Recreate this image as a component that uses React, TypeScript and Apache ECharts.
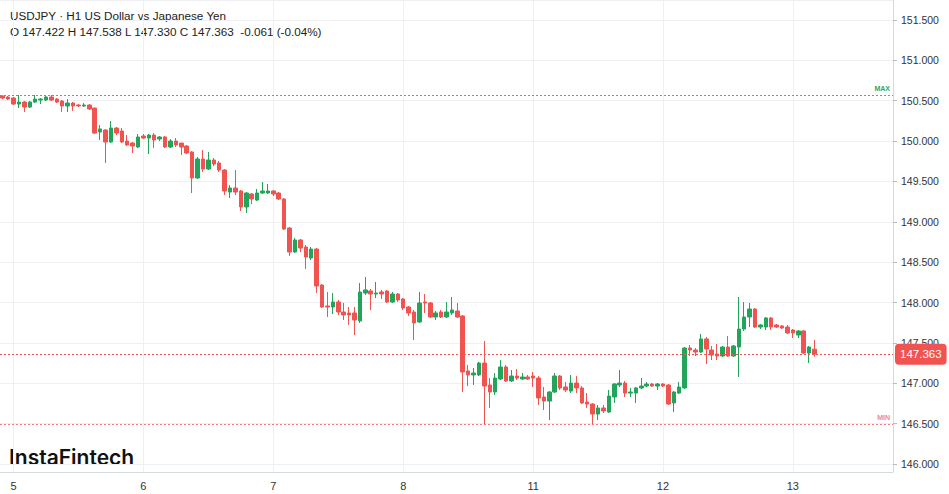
import React, { useEffect, useRef } from 'react';
import * as echarts from 'echarts';

// Trading sessions shown (day label, first hour, last hour)
const sessions: [string, number, number][] = [
  ['4', 22, 23], ['5', 0, 23], ['6', 0, 23], ['7', 0, 23], ['8', 0, 23],
  ['11', 0, 23], ['12', 0, 23], ['13', 0, 18],
];

const opens = [
  150.559, 150.546, 150.534, 150.459, 150.484, 150.422, 150.484, 150.509, 150.509, 150.546,
  150.521, 150.497, 150.435, 150.472, 150.447, 150.435, 150.447, 150.41, 150.113, 150.137,
  149.989, 150.162, 150.125, 150.001, 149.976, 149.927, 150.063, 150.038, 150.075, 150.026,
  150.051, 149.927, 150.001, 149.976, 149.939, 149.865, 149.543, 149.778, 149.654, 149.766,
  149.729, 149.642, 149.369, 149.419, 149.382, 149.184, 149.345, 149.27, 149.357, 149.357,
  149.382, 149.357, 149.283, 148.923, 148.626, 148.775, 148.688, 148.552, 148.663, 148.217,
  147.957, 147.945, 148.007, 147.883, 147.871, 147.871, 147.772, 148.118, 148.143, 148.106,
  148.131, 148.143, 148.007, 148.106, 148.044, 147.945, 147.883, 147.759, 148.007, 147.995,
  147.821, 147.883, 147.821, 147.871, 147.895, 147.834, 147.152, 147.103, 147.103, 147.251,
  146.979, 146.892, 147.053, 147.202, 147.028, 147.09, 147.053, 147.078, 147.09, 147.065,
  146.83, 146.78, 146.892, 147.09, 146.954, 146.904, 147.003, 146.942, 146.768, 146.743,
  146.619, 146.694, 146.644, 146.83, 146.979, 147.003, 146.879, 146.879, 146.942, 146.966,
  146.991, 146.966, 146.991, 146.979, 146.756, 146.879, 146.942, 147.437, 147.412, 147.387,
  147.549, 147.412, 147.363, 147.338, 147.449, 147.338, 147.449, 147.672, 147.821, 147.92,
  147.697, 147.697, 147.809, 147.722, 147.71, 147.697, 147.66, 147.598, 147.648, 147.375,
  147.422,
];

const closes = [
  150.534, 150.521, 150.459, 150.484, 150.422, 150.484, 150.521, 150.521, 150.546, 150.509,
  150.484, 150.435, 150.472, 150.435, 150.435, 150.447, 150.398, 150.1, 150.15, 149.989,
  150.162, 150.1, 149.989, 149.952, 149.939, 150.051, 150.038, 150.075, 150.014, 150.051,
  149.927, 150.001, 149.952, 149.927, 149.853, 149.543, 149.778, 149.654, 149.766, 149.716,
  149.642, 149.382, 149.419, 149.369, 149.184, 149.357, 149.283, 149.357, 149.382, 149.382,
  149.345, 149.283, 148.911, 148.626, 148.775, 148.676, 148.564, 148.663, 148.205, 147.945,
  147.945, 148.007, 147.883, 147.846, 147.846, 147.784, 148.131, 148.156, 148.106, 148.118,
  148.106, 148.007, 148.106, 148.032, 147.933, 147.871, 147.747, 147.995, 147.995, 147.821,
  147.871, 147.821, 147.883, 147.908, 147.821, 147.14, 147.103, 147.127, 147.251, 146.966,
  146.892, 147.065, 147.202, 147.028, 147.09, 147.065, 147.078, 147.053, 147.065, 146.818,
  146.78, 146.892, 147.09, 146.942, 146.917, 147.003, 146.942, 146.756, 146.743, 146.619,
  146.694, 146.657, 146.842, 146.991, 147.003, 146.879, 146.892, 146.942, 146.966, 146.991,
  146.966, 146.991, 146.966, 146.743, 146.892, 146.954, 147.437, 147.412, 147.387, 147.549,
  147.425, 147.35, 147.338, 147.449, 147.338, 147.462, 147.672, 147.821, 147.92, 147.697,
  147.722, 147.809, 147.697, 147.697, 147.685, 147.623, 147.623, 147.648, 147.375, 147.449,
  147.363,
];

const lows = [
  150.521, 150.509, 150.447, 150.41, 150.36, 150.41, 150.472, 150.459, 150.497, 150.497,
  150.472, 150.36, 150.36, 150.373, 150.422, 150.422, 150.385, 150.088, 150.014, 149.729,
  149.976, 150.075, 149.976, 149.939, 149.853, 149.914, 150.026, 149.84, 149.914, 150.001,
  149.914, 149.914, 149.927, 149.828, 149.84, 149.357, 149.53, 149.617, 149.642, 149.691,
  149.617, 149.332, 149.295, 149.332, 149.134, 149.109, 149.221, 149.258, 149.345, 149.345,
  149.32, 149.27, 148.899, 148.577, 148.614, 148.626, 148.416, 148.527, 148.118, 147.933,
  147.821, 147.858, 147.846, 147.784, 147.722, 147.598, 147.747, 148.094, 147.908, 148.056,
  148.044, 147.995, 147.995, 148.007, 147.908, 147.834, 147.536, 147.747, 147.871, 147.809,
  147.784, 147.809, 147.809, 147.846, 147.809, 146.892, 146.966, 146.979, 147.09, 146.487,
  146.694, 146.855, 147.041, 147.016, 147.016, 147.041, 147.041, 147.041, 146.954, 146.731,
  146.669, 146.545, 146.879, 146.917, 146.892, 146.879, 146.879, 146.743, 146.694, 146.493,
  146.545, 146.632, 146.632, 146.756, 146.954, 146.83, 146.83, 146.756, 146.929, 146.954,
  146.954, 146.917, 146.954, 146.731, 146.644, 146.867, 146.929, 147.338, 147.338, 147.375,
  147.239, 147.288, 147.288, 147.326, 147.326, 147.326, 147.078, 147.648, 147.697, 147.685,
  147.672, 147.66, 147.66, 147.685, 147.672, 147.611, 147.561, 147.561, 147.363, 147.251,
  147.33,
];

const highs = [
  150.565, 150.559, 150.546, 150.571, 150.497, 150.497, 150.571, 150.534, 150.559, 150.571,
  150.534, 150.509, 150.521, 150.484, 150.459, 150.472, 150.459, 150.41, 150.199, 150.15,
  150.249, 150.174, 150.162, 150.075, 149.989, 150.088, 150.088, 150.088, 150.1, 150.063,
  150.063, 150.026, 150.038, 149.976, 149.952, 149.877, 149.803, 149.89, 149.865, 149.791,
  149.753, 149.654, 149.456, 149.642, 149.394, 149.369, 149.357, 149.407, 149.493, 149.469,
  149.394, 149.369, 149.295, 148.936, 148.8, 148.787, 148.713, 148.688, 148.676, 148.23,
  148.131, 148.118, 148.032, 147.995, 147.945, 147.945, 148.242, 148.317, 148.168, 148.255,
  148.156, 148.156, 148.131, 148.118, 148.056, 147.957, 147.908, 148.131, 148.106, 148.007,
  147.895, 147.908, 148.007, 148.069, 147.995, 147.846, 147.227, 147.189, 147.264, 147.524,
  147.065, 147.127, 147.288, 147.227, 147.165, 147.177, 147.127, 147.103, 147.14, 147.09,
  146.954, 146.904, 147.127, 147.103, 147.016, 147.103, 147.09, 146.966, 146.879, 146.756,
  146.731, 146.731, 146.917, 147.003, 147.165, 147.028, 146.942, 146.954, 147.065, 147.016,
  147.003, 147.003, 147.003, 146.991, 146.904, 147.016, 147.449, 147.474, 147.437, 147.611,
  147.573, 147.462, 147.487, 147.462, 147.586, 147.474, 148.069, 148.007, 147.995, 147.933,
  147.734, 147.821, 147.821, 147.734, 147.722, 147.722, 147.672, 147.66, 147.66, 147.462,
  147.538,
];

const headerTitle = 'USDJPY · H1 US Dollar vs Japanese Yen';
const headerValues = 'O 147.422 H 147.538 L 147.330 C 147.363  -0.061 (-0.04%)';
const brand = 'InstaFintech';

const GREEN = '#22a55a';
const RED = '#f05350';
const FONT = 'Arial, "Liberation Sans", sans-serif';

const categories: string[] = [];
sessions.forEach(([d, h0, h1]) => {
  for (let h = h0; h <= h1; h++) categories.push(`${d} ${String(h).padStart(2, '0')}:00`);
});
const isDayStart = (_i: number, v: string) => v.endsWith(' 00:00');

export default function App() {
  const ref = useRef<HTMLDivElement>(null);
  useEffect(() => {
    if (!ref.current) return;
    const chart = echarts.init(ref.current, null, { renderer: 'svg' });
    const data = opens.map((o, i) => [o, closes[i], lows[i], highs[i]]);
    const last = closes[closes.length - 1];
    const maxHigh = Math.max(...highs);
    const minLow = Math.min(...lows);
    chart.setOption({
      animation: false,
      backgroundColor: '#ffffff',
      textStyle: { fontFamily: FONT },
      grid: { left: -1, right: 56, top: 0, bottom: 22, containLabel: false },
      xAxis: {
        type: 'category',
        data: categories,
        boundaryGap: true,
        axisLine: { show: true, lineStyle: { color: '#d5d9e2', width: 1 } },
        axisTick: { show: false },
        axisLabel: {
          interval: isDayStart,
          formatter: (v: string) => v.split(' ')[0],
          color: '#333',
          fontSize: 11,
          margin: 8,
        },
        splitLine: {
          show: true,
          interval: isDayStart,
          alignWithLabel: true,
          lineStyle: { color: '#eef0f4', width: 1 },
        },
      },
      yAxis: {
        type: 'value',
        position: 'right',
        min: 145.901,
        max: 151.748,
        splitNumber: 11,
        axisLine: { show: true, lineStyle: { color: '#d5d9e2', width: 1 } },
        axisTick: { show: true, length: 4, lineStyle: { color: '#b8bcc6' } },
        axisLabel: {
          formatter: (v: number) => v.toFixed(3),
          showMinLabel: false,
          showMaxLabel: false,
          color: '#333',
          fontSize: 10.5,
          margin: 8,
        },
        splitLine: { show: true, lineStyle: { color: '#eef0f4', width: 1 } },
      },
      series: [
        {
          type: 'candlestick',
          data,
          barWidth: 4,
          itemStyle: {
            color: GREEN,
            color0: RED,
            borderColor: GREEN,
            borderColor0: RED,
            borderWidth: 1,
          },
          markLine: {
            symbol: 'none',
            silent: true,
            animation: false,
            data: [
              {
                yAxis: maxHigh,
                lineStyle: { color: '#3dbb72', type: [2, 2], width: 1 },
                label: {
                  formatter: 'MAX', position: 'insideEndTop', color: '#2aa862',
                  fontSize: 7, fontWeight: 'bold', distance: 3,
                },
              },
              {
                yAxis: minLow,
                lineStyle: { color: '#f47c7c', type: [2, 2], width: 1 },
                label: {
                  formatter: 'MIN', position: 'insideEndTop', color: '#f08a8a',
                  fontSize: 7, fontWeight: 'bold', distance: 3,
                },
              },
              {
                yAxis: last,
                lineStyle: { color: RED, type: [2, 2], width: 1 },
                label: {
                  formatter: last.toFixed(3),
                  position: 'end',
                  distance: 2,
                  color: '#fff',
                  backgroundColor: RED,
                  borderRadius: 4,
                  padding: [5, 5, 4, 5],
                  fontSize: 11.5,
                  fontFamily: FONT,
                },
              },
            ],
          },
        },
      ],
      graphic: [
        {
          type: 'text', x: 10, y: 15.5,
          style: { text: headerTitle, font: `11.7px ${FONT}`, fill: '#222', verticalAlign: 'middle' },
        },
        {
          type: 'text', x: 10, y: 31.2,
          style: { text: headerValues, font: `11.7px ${FONT}`, fill: '#222', verticalAlign: 'middle' },
        },
        {
          type: 'text', x: 9, y: 457,
          style: { text: brand, font: `600 21px Inter, Lato, "Open Sans", sans-serif`, fill: '#111', verticalAlign: 'middle' },
        },
      ],
    });
    return () => chart.dispose();
  }, []);
  return (
    <div
      ref={ref}
      style={{ position: 'fixed', left: 0, top: 0, width: 949, height: 494, background: '#fff' }}
    />
  );
}
